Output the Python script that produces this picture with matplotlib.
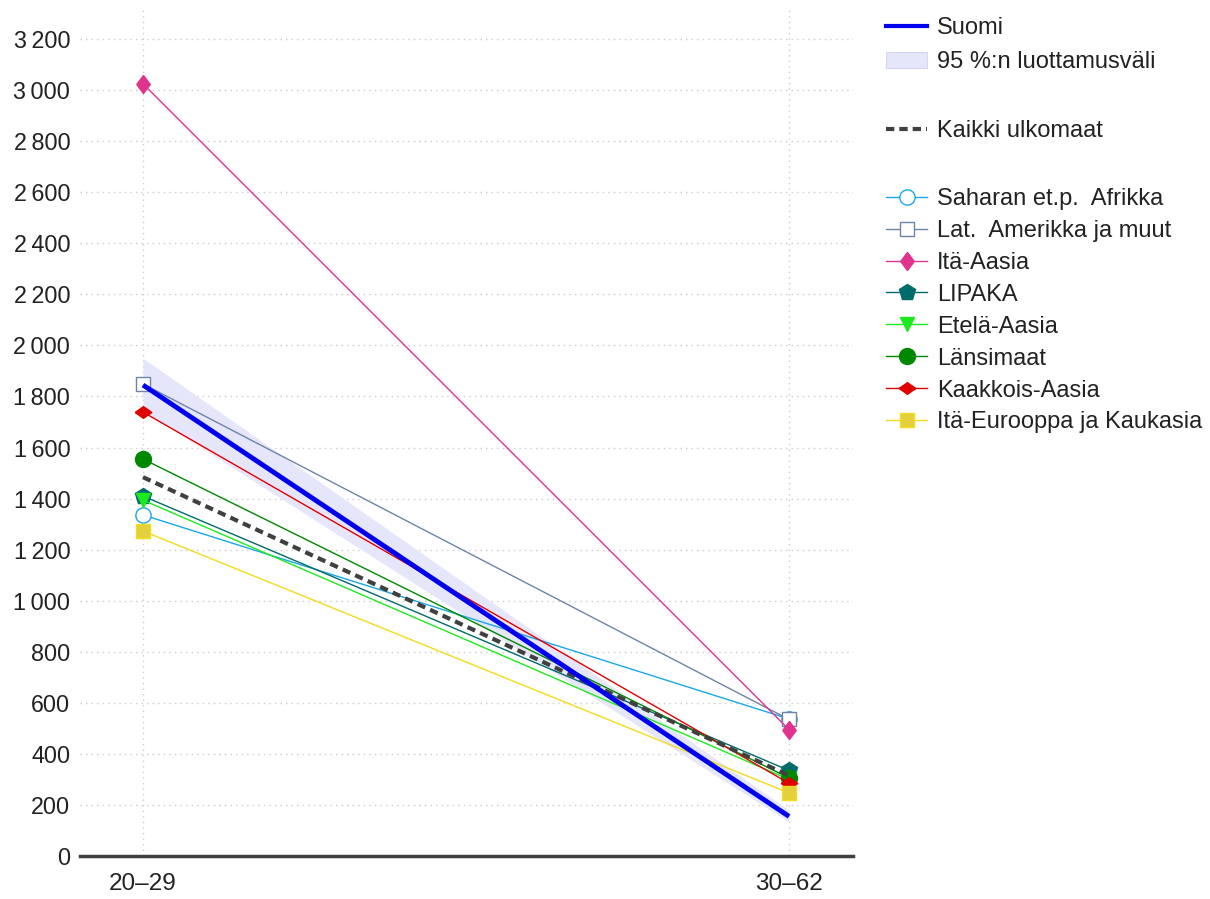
import matplotlib
matplotlib.use("Agg")
import matplotlib.pyplot as plt
from matplotlib.lines import Line2D
from matplotlib.patches import Patch
from matplotlib.ticker import FuncFormatter, MultipleLocator

plt.rcParams['font.family'] = ['Liberation Sans', 'DejaVu Sans']

groups = ['20–29', '30–62']
suomi = [1845, 155]
ci_low = [1745, 133]
ci_high = [1950, 180]
kaikki = [1484, 315]

series_names = ['Saharan et.p.  Afrikka', 'Lat.  Amerikka ja muut', 'Itä-Aasia', 'LIPAKA',
                'Etelä-Aasia', 'Länsimaat', 'Kaakkois-Aasia', 'Itä-Eurooppa ja Kaukasia']
saharan = [1336, 537]
lat_amerikka = [1849, 535]
ita_aasia = [3025, 495]
lipaka = [1410, 335]
etela_aasia = [1394, 300]
lansimaat = [1555, 306]
kaakkois_aasia = [1739, 285]
ita_eurooppa = [1273, 247]
series_values = [saharan, lat_amerikka, ita_aasia, lipaka, etela_aasia,
                 lansimaat, kaakkois_aasia, ita_eurooppa]

flat_diamond = [(-1, 0), (0, 0.7), (1, 0), (0, -0.7), (-1, 0)]
tall_diamond = [(-0.75, 0), (0, 1), (0.75, 0), (0, -1), (-0.75, 0)]
styles = [
    dict(color='#1aa7ea', marker='o', mfc='white', ms=11, mew=1.0),
    dict(color='#6d84a6', marker='s', mfc='white', ms=9.5, mew=1.0),
    dict(color='#e0338e', marker=tall_diamond, mfc='#e0338e', ms=13, mew=1.0),
    dict(color='#006b6b', marker='p', mfc='#006b6b', ms=12, mew=1.0),
    dict(color='#1ee81e', marker='v', mfc='#1ee81e', ms=10, mew=1.0),
    dict(color='#008800', marker='o', mfc='#008800', ms=11.5, mew=1.0),
    dict(color='#e00000', marker=flat_diamond, mfc='#e00000', ms=12, mew=1.0),
    dict(color='#f2dc1c', marker='s', mfc='#e3d03c', ms=10, mew=1.0),
]

fig = plt.figure(figsize=(12.1, 8.99), dpi=100)
ax = fig.add_axes([80/1210, 43/899, (853-80)/1210, (899-43-10)/899])

x = [0, 1]
ax.fill_between(x, ci_low, ci_high, color='#e6e6fb', lw=0, zorder=1)

for vals, st in zip(series_values, styles):
    ax.plot(x, vals, lw=1.0, color=st['color'], marker=st['marker'], ms=st['ms'],
            mfc=st['mfc'], mec=st['color'], mew=st['mew'], zorder=3)

ax.plot(x, kaikki, color='#404040', lw=3, ls=(0, (2.0, 1.3)), zorder=4)
ax.plot(x, suomi, color='#0000ee', lw=3.5, zorder=5, solid_capstyle='butt')

ax.set_xlim(-0.0975, 1.099)
ax.set_ylim(0, 3314)
ax.set_xticks(x)
ax.set_xticklabels(groups)
ax.yaxis.set_major_locator(MultipleLocator(200))
ax.yaxis.set_major_formatter(FuncFormatter(
    lambda v, p: f"{int(v):,}".replace(',', '\u2009')))
ax.tick_params(axis='both', length=0, colors='#222222')
ax.tick_params(axis='y', labelsize=16.8, pad=7)
ax.tick_params(axis='x', labelsize=17.5, pad=12)
ax.grid(True, ls=(0, (1, 3)), color='#cccccc', lw=1)
ax.set_axisbelow(True)
for s in ['top', 'right', 'left']:
    ax.spines[s].set_visible(False)
ax.spines['bottom'].set_color('#404040')
ax.spines['bottom'].set_linewidth(2.5)
ax.spines['bottom'].set_zorder(6)

blank = Line2D([], [], color='none')
handles1 = [Line2D([], [], color='#0000ee', lw=3),
            Patch(facecolor='#e6e6fb', edgecolor='#d6d6f4', lw=0.8),
            blank,
            Line2D([], [], color='#404040', lw=3, ls=(0, (2.0, 1.2)))]
labels1 = ['Suomi', '95 %:n luottamusväli', ' ', 'Kaikki ulkomaat']

handles2, labels2 = [], []
for name, st in zip(series_names, styles):
    handles2.append(Line2D([], [], lw=1.0, color=st['color'], marker=st['marker'],
                           ms=st['ms'], mfc=st['mfc'], mec=st['color']))
    labels2.append(name)

leg1 = fig.legend(handles1, labels1, loc='upper left', bbox_to_anchor=(886/1210, 1 - 17/899),
                  frameon=False, fontsize=17, handlelength=1.75, handletextpad=0.4,
                  labelspacing=0.52, borderaxespad=0, borderpad=0, labelcolor='#222222')
leg2 = fig.legend(handles2, labels2, loc='upper left', bbox_to_anchor=(886/1210, 1 - 188/899),
                  frameon=False, fontsize=17, handlelength=1.75, handletextpad=0.4,
                  labelspacing=0.42, borderaxespad=0, borderpad=0, labelcolor='#222222')

fig.savefig('out.png', dpi=100)
